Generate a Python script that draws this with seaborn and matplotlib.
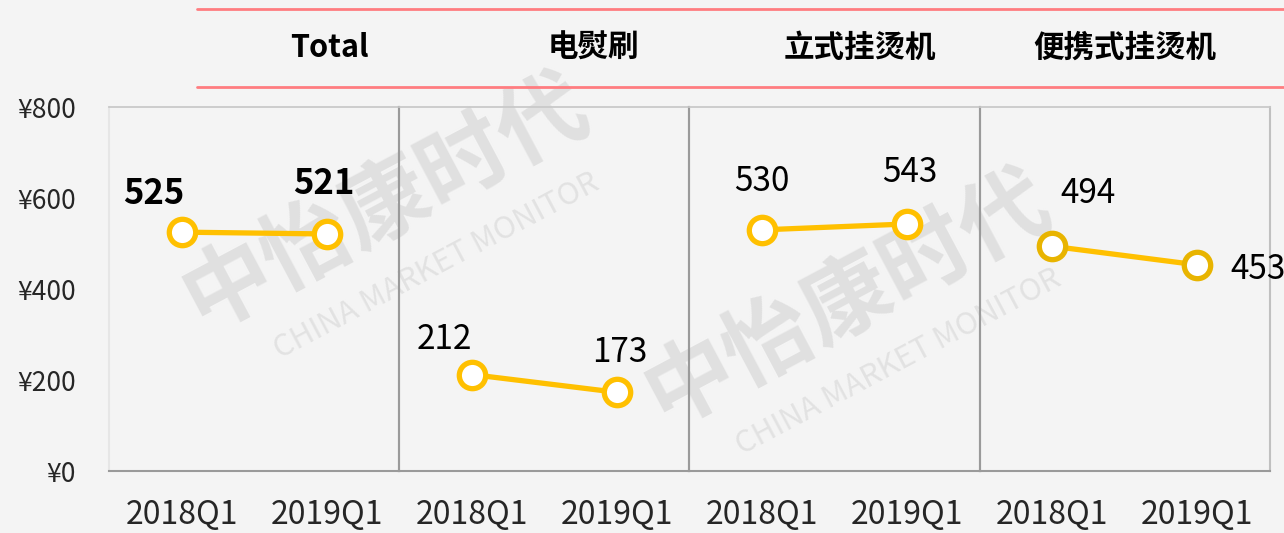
import matplotlib
matplotlib.use("Agg")
import matplotlib.pyplot as plt
import pandas as pd
import seaborn as sns
from matplotlib.lines import Line2D

panels = ["Total", "电熨刷", "立式挂烫机", "便携式挂烫机"]
periods = ["2018Q1", "2019Q1"]
total = [525, 521]
iron_brush = [212, 173]
standing = [530, 543]
portable = [494, 453]
y_ticks = [0, 200, 400, 600, 800]

YELLOW = "#FFC000"

sns.set_theme(style="white")
plt.rcParams["font.family"] = ["Noto Sans CJK SC", "DejaVu Sans"]

rows = []
for name, vals in zip(panels, [total, iron_brush, standing, portable]):
    for p, v in zip(periods, vals):
        rows.append({"panel": name, "period": p, "value": v})
df = pd.DataFrame(rows)

fig, axes = plt.subplots(1, 4, figsize=(12.84, 5.33), dpi=100, sharey=True)
fig.patch.set_facecolor("#f4f4f4")
fig.subplots_adjust(left=0.0849, right=0.989, bottom=0.1163, top=0.7992, wspace=0)

# faint watermark behind the axes
for x, y in [(0.30, 0.62), (0.66, 0.44)]:
    fig.text(x, y, "中怡康时代", fontsize=64, fontweight="bold", color="#e0e0e0",
             rotation=28, ha="center", va="center", zorder=-2)
    fig.text(x + 0.04, y - 0.12, "CHINA MARKET MONITOR", fontsize=22, color="#e2e2e2",
             rotation=28, ha="center", va="center", zorder=-2)

# label offsets in points (dx, dy) per panel/point
offsets = [[(-20, 28), (-2, 36)], [(-20, 25), (2, 29)], [(0, 35), (2, 37)], [(26, 38), (44, -3)]]

for i, (ax, name) in enumerate(zip(axes, panels)):
    sub = df[df["panel"] == name]
    ax.set_facecolor("none")
    sns.lineplot(data=sub, x="period", y="value", ax=ax, color=YELLOW, linewidth=3.8,
                 marker="o", markersize=19, markerfacecolor="white",
                 markeredgecolor=YELLOW if i < 3 else "#E8B400", markeredgewidth=3.8)
    ax.set_xlim(-0.5, 1.5)
    ax.set_ylim(0, 800)
    ax.set_xlabel("")
    ax.set_ylabel("")
    ax.tick_params(axis="x", length=0, pad=20, labelsize=23)
    ax.tick_params(axis="y", length=0, pad=24, labelsize=19)
    for sp in ax.spines.values():
        sp.set_visible(True)
    ax.spines["top"].set_color("#c8c8c8")
    ax.spines["bottom"].set_color("#9a9a9a")
    ax.spines["bottom"].set_linewidth(1.5)
    ax.spines["left"].set_color("#9a9a9a" if i > 0 else "#e6e6e6")
    ax.spines["left"].set_linewidth(1.5)
    ax.spines["right"].set_color("#9a9a9a" if i < 3 else "#c0c0c0")
    ax.spines["right"].set_linewidth(1.5)
    for j, (p, v) in enumerate(zip(sub["period"], sub["value"])):
        dx, dy = offsets[i][j]
        ax.annotate(str(v), (j, v), xytext=(dx, dy), textcoords="offset points",
                    ha="center", va="center", fontsize=24 if i else 25,
                    fontweight="bold" if i == 0 else "normal", color="black")

axes[0].set_yticks(y_ticks)
axes[0].set_yticklabels([f"¥{t}" for t in y_ticks])

# header band with red rules
for yy in [0.983, 0.837]:
    fig.add_artist(Line2D([197 / 1284, 1.0], [yy, yy], transform=fig.transFigure,
                          color="#ff7c80", linewidth=2))
title_x = [329, 593, 860, 1125]
for name, tx in zip(panels, title_x):
    fig.text(tx / 1284, 0.91, name, fontsize=22, fontweight="bold",
             ha="center", va="center", color="black")

fig.savefig("out.png", dpi=100, facecolor=fig.get_facecolor())
